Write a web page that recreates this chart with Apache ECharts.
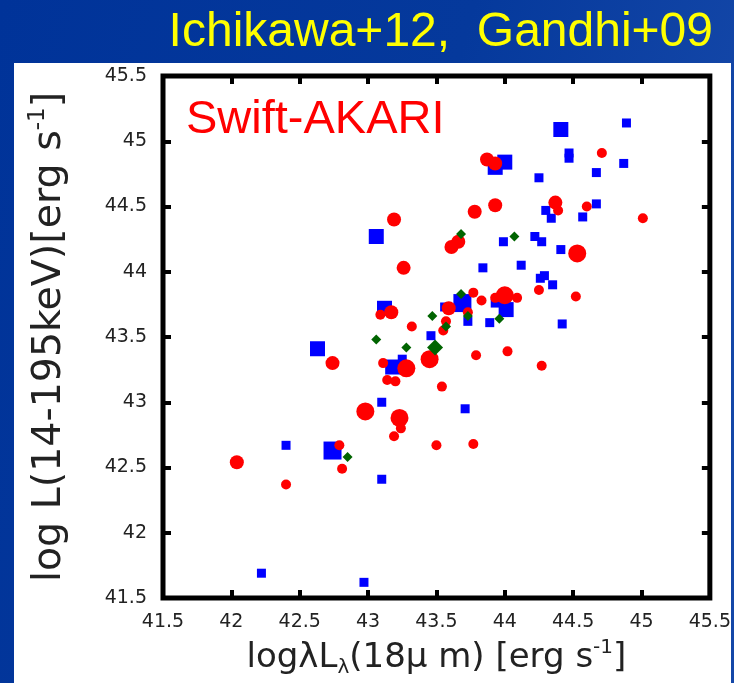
<!DOCTYPE html>
<html>
<head>
<meta charset="utf-8">
<script src="https://cdn.jsdelivr.net/npm/echarts@6/dist/echarts.min.js"></script>
<style>html,body{margin:0;padding:0;background:#003399;}#c{width:734px;height:683px;}</style>
</head>
<body>
<div id="c"></div>
<script>
// ---- data: [log L_18um, log L_14-195keV] ----
const blueSmall = [
  [44.89,45.14],[44.47,44.91],[44.47,44.87],[44.87,44.83],[44.67,44.76],[44.25,44.72],
  [44.67,44.52],[44.30,44.47],[44.34,44.41],[44.57,44.42],[43.99,44.23],[44.22,44.27],
  [44.27,44.23],[44.41,44.17],[44.12,44.05],[43.84,44.03],[44.26,43.95],[44.29,43.97],
  [44.35,43.90],[43.93,43.76],[43.89,43.61],[44.42,43.60],[43.56,43.73],[43.73,43.62],
  [43.46,43.51],[43.25,43.33],[43.10,43.00],[43.71,42.95],[42.40,42.67],[43.10,42.41],
  [42.22,41.69],[42.97,41.62]
];
const blueLarge = [
  [44.41,45.09],[43.93,44.80],[44.00,44.84],[44.01,43.71],[43.12,43.72],[43.18,43.27],
  [42.63,43.41],[43.06,44.27]
];
const blueXL = [[43.69,43.76],[42.74,42.63]];
const redSmall = [
  [44.71,44.91],[44.39,44.47],[44.60,44.50],[45.01,44.41],[44.25,43.86],[44.52,43.81],
  [43.83,43.78],[43.93,43.80],[44.09,43.80],[44.02,43.39],[44.27,43.28],[43.77,43.84],
  [43.73,43.69],[43.57,43.62],[43.55,43.55],[43.32,43.58],[43.09,43.67],[43.11,43.30],
  [43.14,43.17],[43.20,43.16],[43.54,43.12],[43.79,43.36],[43.24,42.80],[43.19,42.74],
  [43.50,42.67],[43.77,42.68],[42.79,42.67],[42.81,42.49],[42.40,42.37]
];
const redLarge = [
  [43.87,44.86],[43.93,44.83],[43.93,44.51],[43.78,44.46],[44.37,44.53],[43.19,44.40],
  [43.26,44.03],[43.61,44.19],[43.66,44.23],[43.17,43.69],[43.59,43.72],[42.74,43.30],
  [42.04,42.54]
];
const redXL = [[44.53,44.14],[44.00,43.82],[43.45,43.33],[43.28,43.26],[42.98,42.93],[43.23,42.88]];
const greenSmall = [
  [44.07,44.27],[43.68,44.29],[43.68,43.83],[43.47,43.66],[43.73,43.66],[43.96,43.64],
  [43.57,43.58],[43.06,43.48],[43.28,43.42],[42.85,42.58]
];
const greenLarge = [[43.49,43.42]];
const axisMin = 41.5, axisMax = 45.5, axisStep = 0.5;
const titleText = 'Ichikawa+12,  Gandhi+09';
const panelText = 'Swift-AKARI';

const chart = echarts.init(document.getElementById('c'), null, {renderer: 'canvas'});
const lblFont = 'DejaVu Sans';
const tickStyle = {show: true, inside: true, length: 8, lineStyle: {color: '#000', width: 4}};
function sc(name, data, symbol, size, color) {
  return {name, type: 'scatter', data, symbol, symbolSize: size,
    itemStyle: {color, opacity: 1}, emphasis: {disabled: true}, silent: true,
    xAxisIndex: 0, yAxisIndex: 0, animation: false};
}
chart.setOption({
  animation: false,
  backgroundColor: 'transparent',
  graphic: {elements: [
    {type: 'rect', z: -100, shape: {x: 0, y: 0, width: 734, height: 683},
      style: {fill: new echarts.graphic.LinearGradient(0, 0, 1, 0.3, [
        {offset: 0, color: '#003399'}, {offset: 0.6, color: '#05399c'}, {offset: 1, color: '#1447a8'}])}},
    {type: 'rect', z: -99, shape: {x: 14, y: 63, width: 717, height: 620}, style: {fill: '#ffffff'}},
    {type: 'text', z: 10, x: 713, y: 33,
      style: {text: titleText, fill: '#ffff00', font: '48px "Liberation Sans"', align: 'right', verticalAlign: 'middle'}},
    {type: 'text', z: 10, x: 186, y: 120,
      style: {text: panelText, fill: '#ff0000', font: '47px "Liberation Sans"', align: 'left', verticalAlign: 'middle'}}
  ]},
  grid: {left: 163, right: 24, top: 76, bottom: 85, show: true, borderColor: '#000', borderWidth: 5,
    backgroundColor: 'transparent', containLabel: false},
  xAxis: [
    {type: 'value', min: axisMin, max: axisMax, interval: axisStep, position: 'bottom',
      axisLine: {show: false}, splitLine: {show: false}, axisTick: tickStyle,
      axisLabel: {color: '#222', fontSize: 19, fontFamily: lblFont, margin: 15},
      name: '{n|logλL}{s|λ}{n|(18μ m) [erg s}{p|-1}{n|]}', nameLocation: 'middle', nameGap: 40,
      nameTextStyle: {color: '#222', fontFamily: lblFont, rich: {
        n: {fontSize: 34, fontFamily: lblFont, color: '#222', lineHeight: 40},
        s: {fontSize: 20, fontFamily: lblFont, color: '#222', verticalAlign: 'bottom', lineHeight: 40},
        p: {fontSize: 20, fontFamily: lblFont, color: '#222', verticalAlign: 'top', lineHeight: 40}}}},
    {type: 'value', min: axisMin, max: axisMax, interval: axisStep, position: 'top',
      axisLine: {show: false}, splitLine: {show: false}, axisTick: tickStyle, axisLabel: {show: false}}
  ],
  yAxis: [
    {type: 'value', min: axisMin, max: axisMax, interval: axisStep, position: 'left',
      axisLine: {show: false}, splitLine: {show: false}, axisTick: tickStyle,
      axisLabel: {color: '#222', fontSize: 19, fontFamily: lblFont, margin: 16},
      name: '{n|log L(14-195keV)[erg s}{p|-1}{n|]}', nameLocation: 'middle', nameGap: 90,
      nameTextStyle: {color: '#222', fontFamily: lblFont, rich: {
        n: {fontSize: 39.5, fontFamily: lblFont, color: '#222', lineHeight: 46},
        p: {fontSize: 23, fontFamily: lblFont, color: '#222', verticalAlign: 'top', lineHeight: 46}}}},
    {type: 'value', min: axisMin, max: axisMax, interval: axisStep, position: 'right',
      axisLine: {show: false}, splitLine: {show: false}, axisTick: tickStyle, axisLabel: {show: false}}
  ],
  series: [
    sc('blueSmall', blueSmall, 'rect', 9, '#0000ff'),
    sc('blueLarge', blueLarge, 'rect', 15, '#0000ff'),
    sc('blueXL', blueXL, 'rect', 18, '#0000ff'),
    sc('redSmall', redSmall, 'circle', 10, '#ff0000'),
    sc('redLarge', redLarge, 'circle', 14, '#ff0000'),
    sc('redXL', redXL, 'circle', 18, '#ff0000'),
    sc('greenSmall', greenSmall, 'diamond', 10, '#006400'),
    sc('greenLarge', greenLarge, 'diamond', 16, '#006400')
  ]
});
</script>
</body>
</html>
